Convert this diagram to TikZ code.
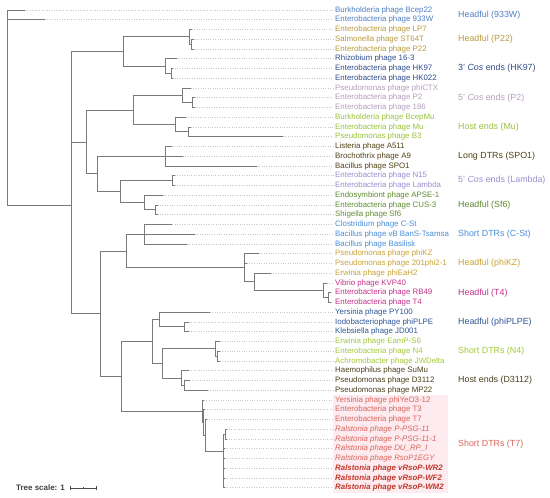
\documentclass[tikz,border=0pt]{standalone}
\usepackage{fontspec}
\setmainfont{Liberation Sans}
\definecolor{branchgray}{HTML}{7A7A7A}
\definecolor{leadgray}{HTML}{C8C8C8}
\definecolor{cA}{HTML}{4F7FC4}
\definecolor{cB}{HTML}{B89A3E}
\definecolor{cC}{HTML}{2E4C8C}
\definecolor{cD}{HTML}{B49DBE}
\definecolor{cE}{HTML}{9AC23C}
\definecolor{cF}{HTML}{4F4016}
\definecolor{cG}{HTML}{9A8CD0}
\definecolor{cH}{HTML}{5E8A30}
\definecolor{cI}{HTML}{4A8CD6}
\definecolor{cJ}{HTML}{C8A234}
\definecolor{cK}{HTML}{C2308A}
\definecolor{cL}{HTML}{2E5597}
\definecolor{cM}{HTML}{A4C838}
\definecolor{cN}{HTML}{4A3F1C}
\definecolor{cO}{HTML}{D9655C}
\definecolor{cOb}{HTML}{C0392B}
\definecolor{pinkbg}{HTML}{FDEBEF}
\begin{document}
\begin{tikzpicture}[x=1bp,y=-1bp,
  br/.style={draw=branchgray, line width=0.9bp},
  leader/.style={draw=leadgray, line width=0.6bp, dash pattern=on 0.8bp off 1.6bp},
  leaf/.style={anchor=west, inner sep=0pt, font=\fontsize{7.9}{9}\selectfont},
  grp/.style={anchor=west, inner sep=0pt, font=\fontsize{8.9}{10.5}\selectfont}]
\useasboundingbox (0,0) rectangle (550,498);
% background range for T7 group
\fill[pinkbg] (333,395) rectangle (448,493);

% ---- leaf tips ----
\coordinate (t1) at (25,10);
\coordinate (t2) at (45,19.75);
\coordinate (t3) at (192,29.5);
\coordinate (t4) at (193.5,39.25);
\coordinate (t5) at (193.5,49);
\coordinate (t6) at (176.7,58.75);
\coordinate (t7) at (172.5,68.5);
\coordinate (t8) at (172.5,78.25);
\coordinate (t9) at (191,88);
\coordinate (t10) at (194.5,97.75);
\coordinate (t11) at (194.5,107.5);
\coordinate (t12) at (186,117.25);
\coordinate (t13) at (190.7,127);
\coordinate (t14) at (282.7,136.75);
\coordinate (t15) at (171.7,146.5);
\coordinate (t16) at (182.7,156.25);
\coordinate (t17) at (256.7,166);
\coordinate (t18) at (174.5,175.75);
\coordinate (t19) at (174.5,185.5);
\coordinate (t20) at (162.7,195.25);
\coordinate (t21) at (157.5,205);
\coordinate (t22) at (157.5,214.75);
\coordinate (t23) at (172.3,224.5);
\coordinate (t24) at (195,234.25);
\coordinate (t25) at (186.7,244);
\coordinate (t26) at (259,253.75);
\coordinate (t27) at (247,263.5);
\coordinate (t28) at (271,273.25);
\coordinate (t29) at (327,283);
\coordinate (t30) at (331,292.75);
\coordinate (t31) at (331,302.5);
\coordinate (t32) at (210,312.25);
\coordinate (t33) at (189,322);
\coordinate (t34) at (189,331.75);
\coordinate (t35) at (220,341.5);
\coordinate (t36) at (220,351.25);
\coordinate (t37) at (220,361);
\coordinate (t38) at (189,370.75);
\coordinate (t39) at (190,380.5);
\coordinate (t40) at (207.7,390.25);
\coordinate (t41) at (204,400);
\coordinate (t42) at (205,409.75);
\coordinate (t43) at (207,419.5);
\coordinate (t44) at (226.5,429.25);
\coordinate (t45) at (226.5,439);
\coordinate (t46) at (225,448.75);
\coordinate (t47) at (225,458.5);
\coordinate (t48) at (225,468.25);
\coordinate (t49) at (225,478);
\coordinate (t50) at (225,487.75);

% ---- internal nodes ----
\coordinate (root) at (7.3,107);
\coordinate (nA) at (71,205);
\coordinate (nB) at (123,51.5);
\coordinate (nC) at (189.3,36.8);
\coordinate (nD) at (191.7,44.1);
\coordinate (nG) at (165.7,66.1);
\coordinate (nH) at (171,73.4);
\coordinate (nF) at (86,142);
\coordinate (nI) at (133.3,110);
\coordinate (nJ) at (182.7,95.3);
\coordinate (nK) at (192.7,102.6);
\coordinate (nL) at (175.7,124.6);
\coordinate (nM) at (188.3,131.9);
\coordinate (nN) at (97.7,173.9);
\coordinate (nO) at (165,156.25);
\coordinate (nP) at (120,191.6);
\coordinate (nQ) at (172.7,180.6);
\coordinate (nR) at (144.3,202.6);
\coordinate (nS) at (155.7,209.9);
\coordinate (nE) at (100,313.7);
\coordinate (nT) at (126.7,251);
\coordinate (nU) at (144,234.25);
\coordinate (nV) at (244.3,267.8);
\coordinate (nW) at (254.3,281.8);
\coordinate (nX) at (323,290.3);
\coordinate (nY) at (328,297.6);
\coordinate (nZ) at (121,376.4);
\coordinate (nAA) at (152.7,341.5);
\coordinate (nAB) at (159,319.6);
\coordinate (nAC) at (184.3,326.9);
\coordinate (nAD) at (162.3,363.5);
\coordinate (nAE) at (215,348.8);
\coordinate (nAF) at (217.3,356.1);
\coordinate (nAG) at (181,378.1);
\coordinate (nAH) at (184.3,385.4);
\coordinate (nAI) at (202.3,411.3);
\coordinate (nAJ) at (203.8,422.6);
\coordinate (nAK) at (205.5,435.4);
\coordinate (nAL) at (223,451.2);
\coordinate (nAM) at (225,434.1);
\coordinate (nAN) at (223.8,468.25);

% ---- branches ----
\draw[br] (root) |- (t1);
\draw[br] (root) |- (t2);
\draw[br] (root) |- (nA);
\draw[br] (nA) |- (nB);
\draw[br] (nA) |- (nF);
\draw[br] (nA) |- (nE);
\draw[br] (nB) |- (nC);
\draw[br] (nB) |- (nG);
\draw[br] (nC) |- (t3);
\draw[br] (nC) |- (nD);
\draw[br] (nD) |- (t4);
\draw[br] (nD) |- (t5);
\draw[br] (nG) |- (t6);
\draw[br] (nG) |- (nH);
\draw[br] (nH) |- (t7);
\draw[br] (nH) |- (t8);
\draw[br] (nF) |- (nI);
\draw[br] (nF) |- (nN);
\draw[br] (nI) |- (nJ);
\draw[br] (nI) |- (nL);
\draw[br] (nJ) |- (t9);
\draw[br] (nJ) |- (nK);
\draw[br] (nK) |- (t10);
\draw[br] (nK) |- (t11);
\draw[br] (nL) |- (t12);
\draw[br] (nL) |- (nM);
\draw[br] (nM) |- (t13);
\draw[br] (nM) |- (t14);
\draw[br] (nN) |- (nO);
\draw[br] (nN) |- (nP);
\draw[br] (nO) |- (t15);
\draw[br] (nO) |- (t16);
\draw[br] (nO) |- (t17);
\draw[br] (nP) |- (nQ);
\draw[br] (nP) |- (nR);
\draw[br] (nQ) |- (t18);
\draw[br] (nQ) |- (t19);
\draw[br] (nR) |- (t20);
\draw[br] (nR) |- (nS);
\draw[br] (nS) |- (t21);
\draw[br] (nS) |- (t22);
\draw[br] (nE) |- (nT);
\draw[br] (nE) |- (nZ);
\draw[br] (nT) |- (nU);
\draw[br] (nT) |- (nV);
\draw[br] (nU) |- (t23);
\draw[br] (nU) |- (t24);
\draw[br] (nU) |- (t25);
\draw[br] (nV) |- (t26);
\draw[br] (nV) |- (t27);
\draw[br] (nV) |- (nW);
\draw[br] (nW) |- (t28);
\draw[br] (nW) |- (nX);
\draw[br] (nX) |- (t29);
\draw[br] (nX) |- (nY);
\draw[br] (nY) |- (t30);
\draw[br] (nY) |- (t31);
\draw[br] (nZ) |- (nAA);
\draw[br] (nZ) |- (nAI);
\draw[br] (nAA) |- (nAB);
\draw[br] (nAA) |- (nAD);
\draw[br] (nAB) |- (t32);
\draw[br] (nAB) |- (nAC);
\draw[br] (nAC) |- (t33);
\draw[br] (nAC) |- (t34);
\draw[br] (nAD) |- (nAE);
\draw[br] (nAD) |- (nAG);
\draw[br] (nAE) |- (t35);
\draw[br] (nAE) |- (nAF);
\draw[br] (nAF) |- (t36);
\draw[br] (nAF) |- (t37);
\draw[br] (nAG) |- (t38);
\draw[br] (nAG) |- (nAH);
\draw[br] (nAH) |- (t39);
\draw[br] (nAH) |- (t40);
\draw[br] (nAI) |- (t41);
\draw[br] (nAI) |- (nAJ);
\draw[br] (nAJ) |- (t42);
\draw[br] (nAJ) |- (nAK);
\draw[br] (nAK) |- (t43);
\draw[br] (nAK) |- (nAL);
\draw[br] (nAL) |- (nAM);
\draw[br] (nAL) |- (nAN);
\draw[br] (nAM) |- (t44);
\draw[br] (nAM) |- (t45);
\draw[br] (nAN) |- (t46);
\draw[br] (nAN) |- (t47);
\draw[br] (nAN) |- (t48);
\draw[br] (nAN) |- (t49);
\draw[br] (nAN) |- (t50);

% ---- leaf labels ----
\node[leaf,text=cA] (l1) at (335,10) {Burkholderia phage Bcep22};
\node[leaf,text=cA] (l2) at (335,19.75) {Enterobacteria phage 933W};
\node[leaf,text=cB] (l3) at (335,29.5) {Enterobacteria phage LP7};
\node[leaf,text=cB] (l4) at (335,39.25) {Salmonella phage ST64T};
\node[leaf,text=cB] (l5) at (335,49) {Enterobacteria phage P22};
\node[leaf,text=cC] (l6) at (335,58.75) {Rhizobium phage 16-3};
\node[leaf,text=cC] (l7) at (335,68.5) {Enterobacteria phage HK97};
\node[leaf,text=cC] (l8) at (335,78.25) {Enterobacteria phage HK022};
\node[leaf,text=cD] (l9) at (335,88) {Pseudomonas phage phiCTX};
\node[leaf,text=cD] (l10) at (335,97.75) {Enterobacteria phage P2};
\node[leaf,text=cD] (l11) at (335,107.5) {Enterobacteria phage 186};
\node[leaf,text=cE] (l12) at (335,117.25) {Burkholderia phage BcepMu};
\node[leaf,text=cE] (l13) at (335,127) {Enterobacteria phage Mu};
\node[leaf,text=cE] (l14) at (335,136.75) {Pseudomonas phage B3};
\node[leaf,text=cF] (l15) at (335,146.5) {Listeria phage A511};
\node[leaf,text=cF] (l16) at (335,156.25) {Brochothrix phage A9};
\node[leaf,text=cF] (l17) at (335,166) {Bacillus phage SPO1};
\node[leaf,text=cG] (l18) at (335,175.75) {Enterobacteria phage N15};
\node[leaf,text=cG] (l19) at (335,185.5) {Enterobacteria phage Lambda};
\node[leaf,text=cH] (l20) at (335,195.25) {Endosymbiont phage APSE-1};
\node[leaf,text=cH] (l21) at (335,205) {Enterobacteria phage CUS-3};
\node[leaf,text=cH] (l22) at (335,214.75) {Shigella phage Sf6};
\node[leaf,text=cI] (l23) at (335,224.5) {Clostridium phage C-St};
\node[leaf,text=cI] (l24) at (335,234.25) {Bacillus phage vB BanS-Tsamsa};
\node[leaf,text=cI] (l25) at (335,244) {Bacillus phage Basilisk};
\node[leaf,text=cJ] (l26) at (335,253.75) {Pseudomonas phage phiKZ};
\node[leaf,text=cJ] (l27) at (335,263.5) {Pseudomonas phage 201phi2-1};
\node[leaf,text=cJ] (l28) at (335,273.25) {Erwinia phage phiEaH2};
\node[leaf,text=cK] (l29) at (335,283) {Vibrio phage KVP40};
\node[leaf,text=cK] (l30) at (335,292.75) {Enterobacteria phage RB49};
\node[leaf,text=cK] (l31) at (335,302.5) {Enterobacteria phage T4};
\node[leaf,text=cL] (l32) at (335,312.25) {Yersinia phage PY100};
\node[leaf,text=cL] (l33) at (335,322) {Iodobacteriophage phiPLPE};
\node[leaf,text=cL] (l34) at (335,331.75) {Klebsiella phage JD001};
\node[leaf,text=cM] (l35) at (335,341.5) {Erwinia phage EamP-S6};
\node[leaf,text=cM] (l36) at (335,351.25) {Enterobacteria phage N4};
\node[leaf,text=cM] (l37) at (335,361) {Achromobacter phage JWDelta};
\node[leaf,text=cN] (l38) at (335,370.75) {Haemophilus phage SuMu};
\node[leaf,text=cN] (l39) at (335,380.5) {Pseudomonas phage D3112};
\node[leaf,text=cN] (l40) at (335,390.25) {Pseudomonas phage MP22};
\node[leaf,text=cO] (l41) at (335,400) {Yersinia phage phiYeO3-12};
\node[leaf,text=cO] (l42) at (335,409.75) {Enterobacteria phage T3};
\node[leaf,text=cO] (l43) at (335,419.5) {Enterobacteria phage T7};
\node[leaf,text=cO] (l44) at (335,429.25) {\itshape Ralstonia phage P-PSG-11};
\node[leaf,text=cO] (l45) at (335,439) {\itshape Ralstonia phage P-PSG-11-1};
\node[leaf,text=cO] (l46) at (335,448.75) {\itshape Ralstonia phage DU\_RP\_I};
\node[leaf,text=cO] (l47) at (335,458.5) {\itshape Ralstonia phage RsoP1EGY};
\node[leaf,text=cOb] (l48) at (335,468.25) {\bfseries\itshape Ralstonia phage vRsoP-WR2};
\node[leaf,text=cOb] (l49) at (335,478) {\bfseries\itshape Ralstonia phage vRsoP-WF2};
\node[leaf,text=cOb] (l50) at (335,487.75) {\bfseries\itshape Ralstonia phage vRsoP-WM2};

% ---- leaders ----
\foreach \i in {1,...,50} {
  \draw[leader] (t\i) -- ([xshift=-2bp]l\i.west);
}

% ---- group labels ----
\node[grp,text=cA] (g1) at (458,14.9) {Headful (933W)};
\node[grp,text=cB] (g2) at (458,39.25) {Headful (P22)};
\node[grp,text=cC] (g3) at (458,68.5) {3' \textit{Cos} ends (HK97)};
\node[grp,text=cD] (g4) at (458,97.75) {5' \textit{Cos} ends (P2)};
\node[grp,text=cE] (g5) at (458,127) {Host ends (Mu)};
\node[grp,text=cF] (g6) at (458,156.25) {Long DTRs (SPO1)};
\node[grp,text=cG] (g7) at (458,180.6) {5' \textit{Cos} ends (Lambda)};
\node[grp,text=cH] (g8) at (458,205) {Headful (Sf6)};
\node[grp,text=cI] (g9) at (458,234.25) {Short DTRs (C-St)};
\node[grp,text=cJ] (g10) at (458,263.5) {Headful (phiKZ)};
\node[grp,text=cK] (g11) at (458,292.75) {Headful (T4)};
\node[grp,text=cL] (g12) at (458,322) {Headful (phiPLPE)};
\node[grp,text=cM] (g13) at (458,351.25) {Short DTRs (N4)};
\node[grp,text=cN] (g14) at (458,380.5) {Host ends (D3112)};
\node[grp,text=cO] (g15) at (458,443.9) {Short DTRs (T7)};

% ---- tree scale ----
\node[anchor=west, inner sep=0pt, text=black!75, font=\fontsize{8}{9}\selectfont\bfseries] (ts) at (16,488) {Tree scale: 1};
\coordinate (sb1) at (70,488);
\coordinate (sb2) at (96,488);
\coordinate (sbm) at (83,488);
\draw[draw=black!70, line width=0.7bp] (sb1) -- (sb2);
\draw[draw=black!70, line width=0.7bp] ([yshift=-2bp]sb1) -- ([yshift=2bp]sb1);
\draw[draw=black!70, line width=0.7bp] ([yshift=-2bp]sb2) -- ([yshift=2bp]sb2);
\draw[draw=black!70, line width=0.7bp] ([yshift=-1.2bp]sbm) -- ([yshift=1.2bp]sbm);
\end{tikzpicture}
\end{document}
